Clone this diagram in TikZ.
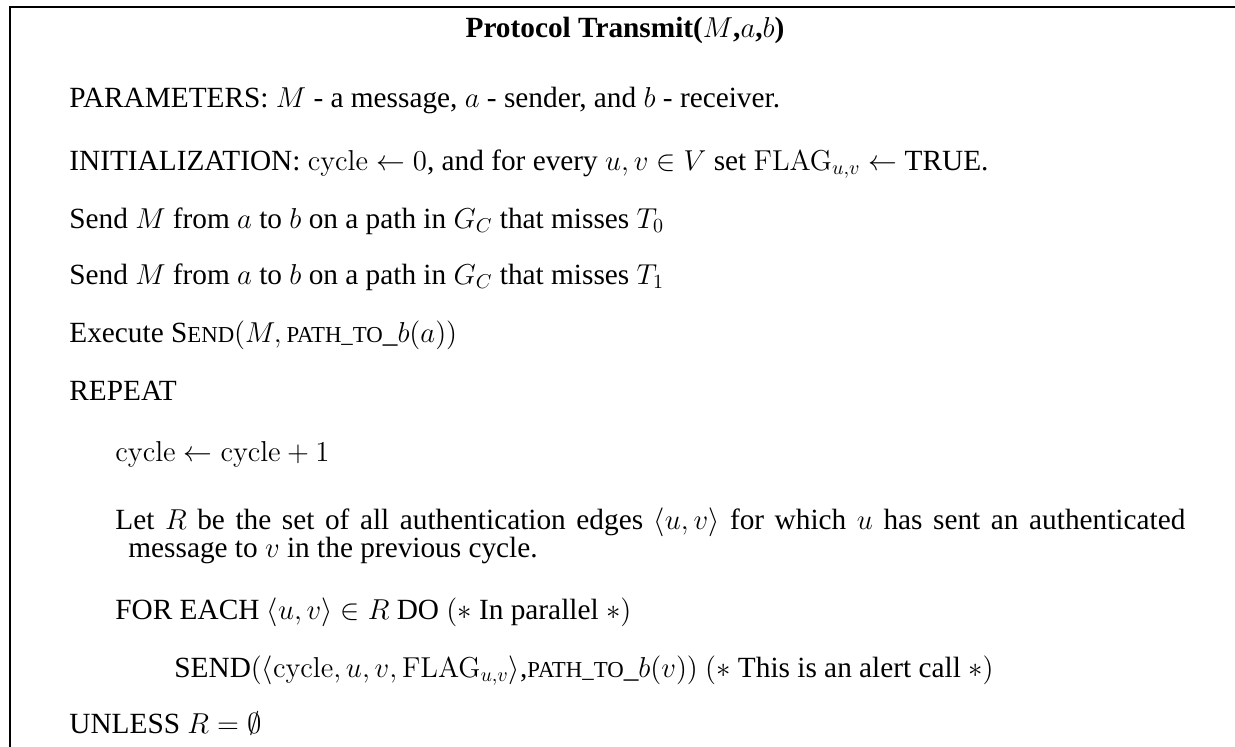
\documentclass[tikz,border=0pt]{standalone}
\usepackage{amsmath}
\usepackage{amssymb}
\usepackage[no-math]{fontspec}
\setmainfont{Liberation Serif}

% faked small caps for the procedure names
\newcommand{\scsmall}{\fontsize{11.4}{12}\selectfont}
\newcommand{\sendname}{S{\scsmall END}}
\newcommand{\pathto}{{\scsmall PATH\_TO}\_}

\begin{document}
\begin{tikzpicture}[x=0.5pt, y=-0.5pt,
  every node/.style={inner sep=0pt, anchor=base west, font=\fontsize{14.65}{15.5}\selectfont}]
  \useasboundingbox (0,0) rectangle (1235,746);
  % frame: only the top and left sides show
  \draw[line width=1pt] (10,770) -- (10,7) -- (1260,7);

  \node[anchor=base] (title) at (625,37)
    {\textbf{Protocol Transmit(}$M$\textbf{,}$a$\textbf{,}$b$\textbf{)}};

  \node (params) at (69,107) {PARAMETERS: $M$ - a message, $a$ - sender, and $b$ - receiver.};
  \node (init) at (69,170) {INITIALIZATION: $\mathrm{cycle}\leftarrow 0$, and for every $u,v\in V$ set $\mathrm{FLAG}_{u,v}\leftarrow$ TRUE.};
  \node (miss0) at (69,228) {Send $M$ from $a$ to $b$ on a path in $G_C$ that misses $T_0$};
  \node (miss1) at (69,284) {Send $M$ from $a$ to $b$ on a path in $G_C$ that misses $T_1$};
  \node (exec) at (69,342) {Execute \sendname$(M,\,$\pathto$b(a))$};
  \node (repeat) at (69,400) {REPEAT};

  % loop body
  \node (incr) at (115,461) {$\mathrm{cycle}\leftarrow\mathrm{cycle}+1$};
  \node (setR) at (115,529) {\makebox[535pt][s]{Let $R$ be the set of all authentication edges $\langle u,v\rangle$ for which $u$ has sent an authenticated}};
  \node (setRb) at (128,557) {message to $v$ in the previous cycle.};
  \node (foreach) at (115,619) {FOR EACH $\langle u,v\rangle\in R$ DO $(*$ In parallel $*)$};
  \node (alert) at (174,677) {SEND$(\langle\mathrm{cycle},u,v,\mathrm{FLAG}_{u,v}\rangle$,\pathto$b(v))$ $(*$ This is an alert call $*)$};

  \node (unless) at (69,733) {UNLESS $R=\emptyset$};
\end{tikzpicture}
\end{document}
